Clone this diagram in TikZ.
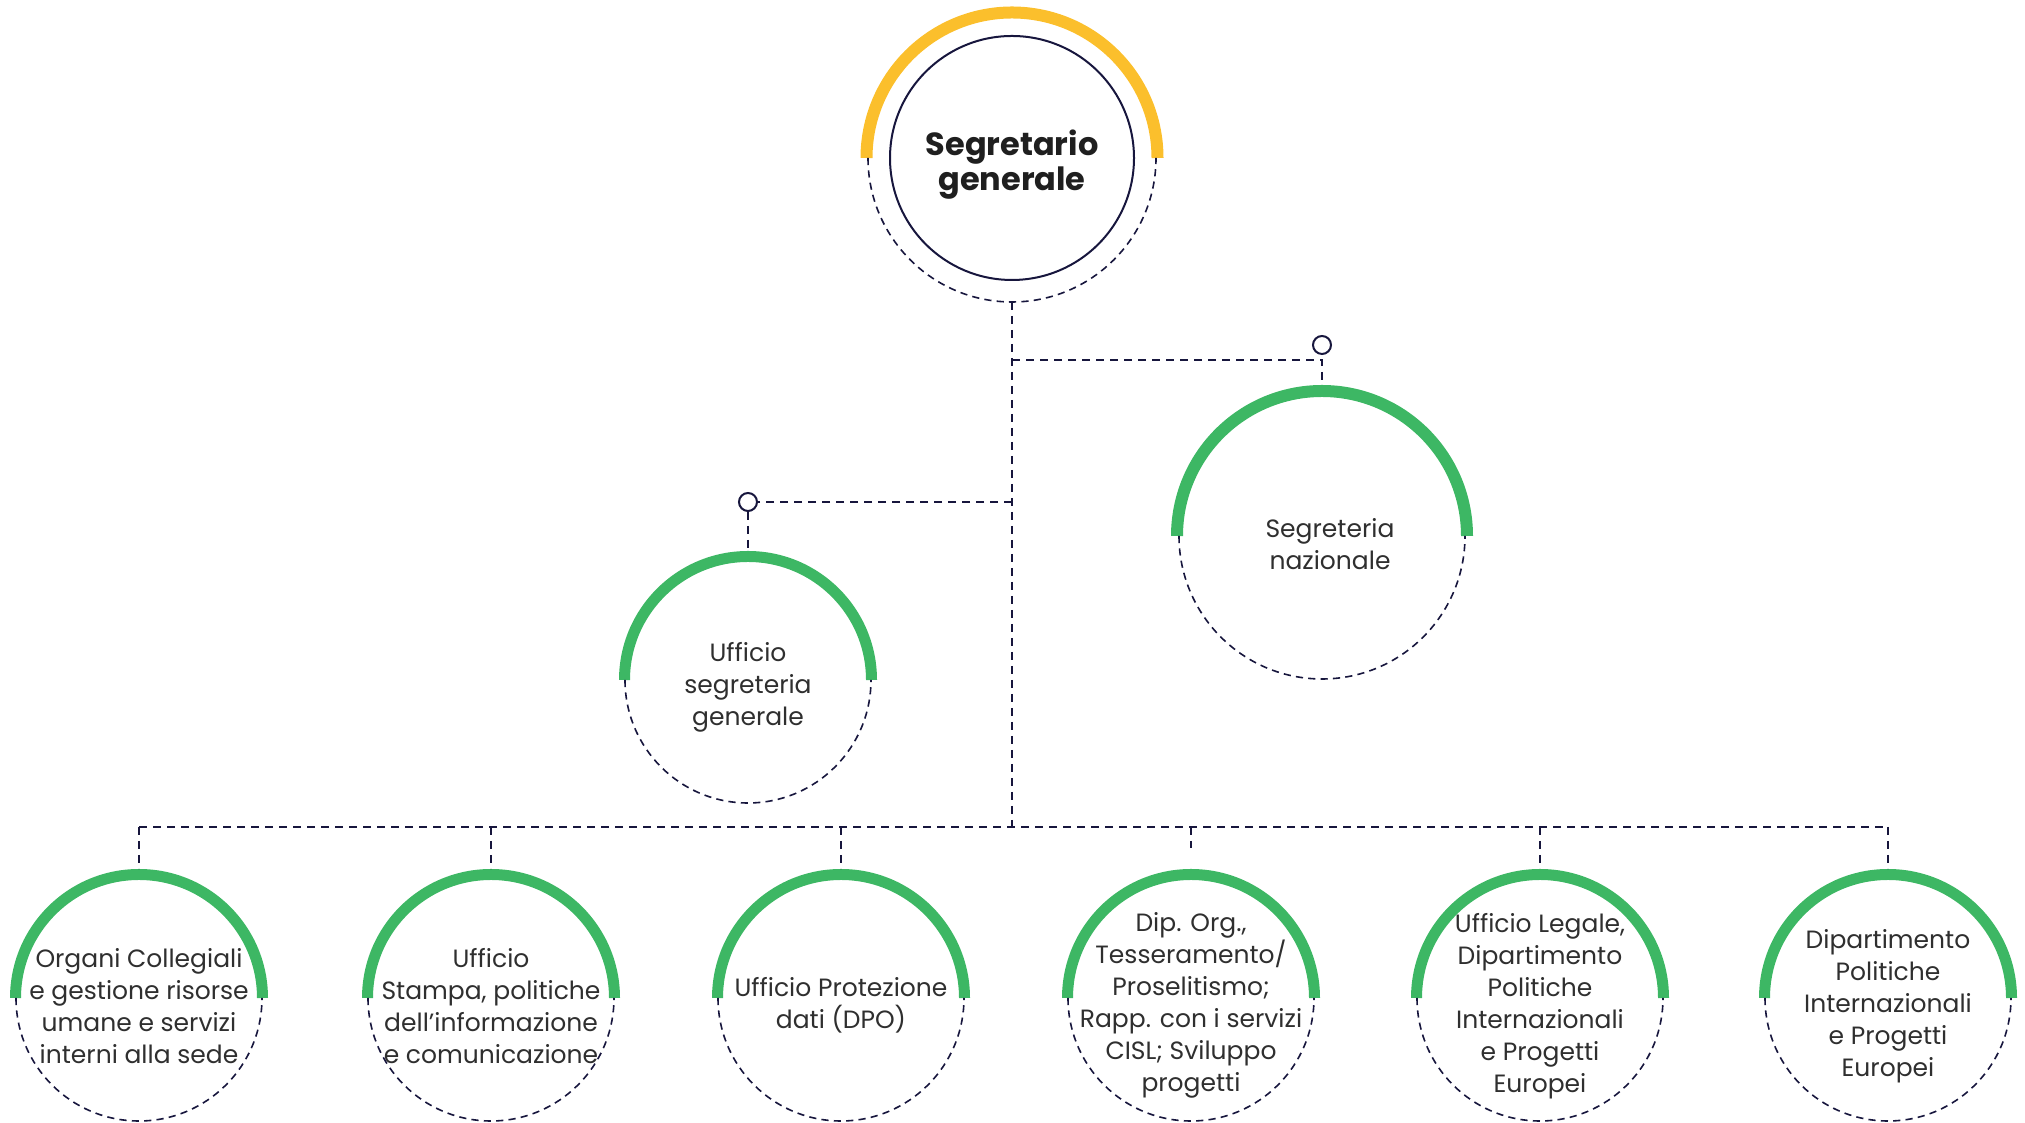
\documentclass[tikz,border=0pt]{standalone}
\usepackage{fontspec}
\setmainfont{Poppins}
\definecolor{ygold}{HTML}{FBBF2C}
\definecolor{ggreen}{HTML}{3DB764}
\definecolor{navy}{HTML}{17163D}
\definecolor{txt}{HTML}{2F2F2F}
\newcommand\dropbody{\rule{0pt}{17.3pt}}
\newcommand\droptitle{\rule{0pt}{19.3pt}}
\begin{document}
\begin{tikzpicture}[x=0.5pt,y=0.5pt,
  conn/.style={draw=navy,line width=1pt,dash pattern=on 4.2pt off 2.8pt},
  ring/.style={draw=navy,line width=0.8pt,dash pattern=on 3.6pt off 2.6pt},
  unit/.style={circle,inner sep=0pt,outer sep=0pt,align=center,text=txt,font=\fontsize{12.5}{16}\selectfont},
  bigunit/.style={unit,minimum size=151pt},
  smallunit/.style={unit,minimum size=129pt},
  topunit/.style={unit,minimum size=144pt,text=black!88,font=\fontsize{16}{14.5}\selectfont\bfseries},
  dotmark/.style={circle,draw=navy,line width=1pt,fill=white,minimum size=9pt,inner sep=0pt},
  garc/.style={draw=ggreen,line width=6pt},
  gsarc/.style={draw=ggreen,line width=5.5pt},
  yarc/.style={draw=ygold,line width=6pt},
]
\useasboundingbox (0,0) rectangle (2025,1123);

% nodes
\node[topunit] (top) at (1012,965) {\droptitle Segretario\\generale};
\node[bigunit] (segnaz) at (1322,587) {\dropbody\hspace*{8pt}Segreteria\\\hspace*{8pt}nazionale};
\node[smallunit] (usg) at (748,443) {\dropbody Ufficio\\segreteria\\generale};
\node[dotmark] (rdot) at (1322,778) {};
\node[dotmark] (ldot) at (748,621) {};

\node[smallunit] (b1) at (139,125) {\dropbody Organi Collegiali\\e gestione risorse\\umane e servizi\\interni alla sede};
\node[smallunit] (b2) at (491,125) {\dropbody Ufficio\\Stampa, politiche\\dell’informazione\\e comunicazione};
\node[smallunit] (b3) at (841,125) {\dropbody Ufficio Protezione\\dati (DPO)};
\node[smallunit] (b4) at (1191,125) {\dropbody Dip. Org.,\\Tesseramento/\\Proselitismo;\\Rapp. con i servizi\\CISL; Sviluppo\\progetti};
\node[smallunit] (b5) at (1540,125) {\dropbody Ufficio Legale,\\Dipartimento\\Politiche\\Internazionali\\e Progetti\\Europei};
\node[smallunit] (b6) at (1888,125) {\dropbody Dipartimento\\Politiche\\Internazionali\\e Progetti\\Europei};

% rings
\draw[navy,line width=1pt] (top.center) circle[radius=122];
\draw[yarc] ([xshift=-72.75pt]top.center) arc[start angle=180,end angle=0,radius=145.5];
\draw[ring] ([xshift=-72pt]top.center) arc[start angle=180,end angle=360,radius=144];

\draw[garc] ([xshift=-72.5pt]segnaz.center) arc[start angle=180,end angle=0,radius=145];
\draw[ring] ([xshift=-71.5pt]segnaz.center) arc[start angle=180,end angle=360,radius=143];

\foreach \n in {usg,b1,b2,b3,b4,b5,b6}{
  \draw[gsarc] ([xshift=-61.75pt]\n.center) arc[start angle=180,end angle=0,radius=123.5];
  \draw[ring] ([xshift=-61.5pt]\n.center) arc[start angle=180,end angle=360,radius=123];
}

% connectors
\coordinate (busy) at (1012,296);
\coordinate (rj) at (1012,763);
\draw[conn] (top.south) -- (busy);
\draw[conn] (rj) -| (segnaz.north);
\draw[conn] (top.south |- ldot) -- (ldot.east);
\draw[conn] (ldot.south) -- (usg.north);
\draw[conn] (b1.north |- busy) -- (b6.north |- busy);
\foreach \n in {b1,b2,b3,b4,b5,b6}{
  \draw[conn] (\n.north |- busy) -- (\n.north);
}
\end{tikzpicture}
\end{document}
